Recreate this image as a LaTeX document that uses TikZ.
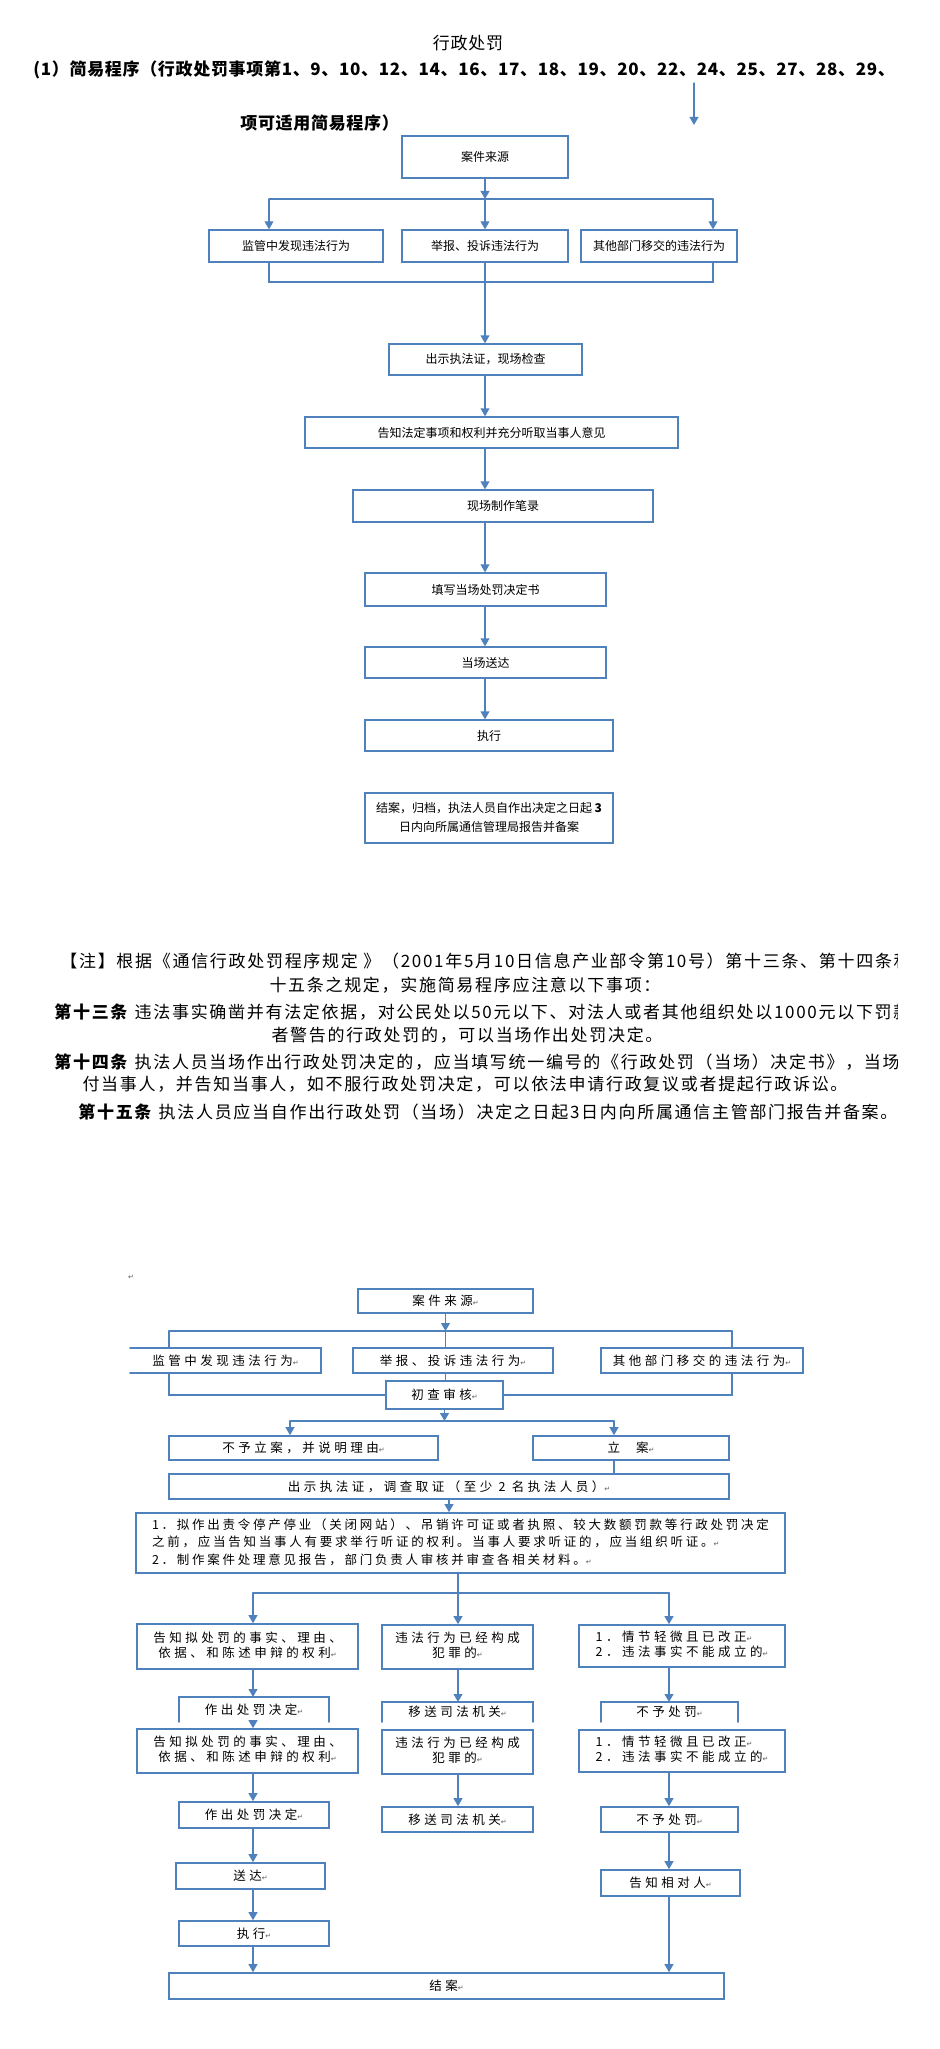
\documentclass[tikz,border=0pt]{standalone}
\usepackage{fontspec}
\setmainfont{Noto Sans CJK SC}
\newfontfamily\titlefont[LetterSpace=4]{Noto Sans CJK SC}
\newfontfamily\notefont[LetterSpace=10]{Noto Sans CJK SC}
\newfontfamily\boxfont[LetterSpace=28]{Noto Sans CJK SC}
\newfontfamily\wideboxfont[LetterSpace=22]{Noto Sans CJK SC}
\newfontfamily\symfont{DejaVu Sans}
\usetikzlibrary{arrows.meta}
\definecolor{lineblue}{rgb}{0.31,0.51,0.74}
\definecolor{markgray}{rgb}{0.35,0.35,0.35}
\newcommand{\retmark}{{\symfont\fontsize{3.5pt}{3.5pt}\selectfont\textcolor{markgray}{↵}}}

\begin{document}
\begin{tikzpicture}[x=0.5pt, y=-0.5pt, >={Triangle[length=4pt,width=4.4pt]}, line cap=round,
  boxat/.style n args={4}{at={({(#1+#3)/2},{(#2+#4)/2})}, minimum width={(#3-#1)*0.5pt}, minimum height={(#4-#2)*0.5pt}},
  box/.style={draw=lineblue, line width=0.65pt, inner sep=0pt, font=\fontsize{6pt}{9.5pt}\selectfont},
  bbox/.style={draw=lineblue, line width=0.8pt, inner sep=0pt, font=\boxfont\fontsize{6.25pt}{7.5pt}\selectfont},
  bopen/.style={bbox, draw=none, outer sep=0pt},
  link/.style={draw=lineblue, line width=0.65pt},
  blink/.style={draw=lineblue, line width=0.8pt},
  notetext/.style={inner sep=0pt, font=\notefont\fontsize{8.5pt}{8.5pt}\selectfont}]
\path[fill=white, use as bounding box] (0,0) rectangle (940,2049);
% ---------- 标题 ----------
\node[inner sep=0pt, font=\titlefont\fontsize{8.5pt}{8.5pt}\selectfont] (title) at (468,43) {行政处罚};
\node[anchor=west, inner sep=0pt, font=\titlefont\bfseries\fontsize{8.5pt}{8.5pt}\selectfont] (scope1) at (33,70) {(1）简易程序（行政处罚事项第1、9、10、12、14、16、17、18、19、20、22、24、25、27、28、29、};
\node[anchor=west, inner sep=0pt, font=\titlefont\bfseries\fontsize{8.5pt}{8.5pt}\selectfont] (scope2) at (240,123) {项可适用简易程序）};
\coordinate (stray1) at (694,83);
\coordinate (stray2) at (694,125);
\draw[link,->] (stray1) -- (stray2);
% ---------- 简易程序流程 ----------
\node[box, boxat={402}{136}{568}{178}] (src) {案件来源};
\node[box, boxat={209}{230}{383}{262}] (find) {监管中发现违法行为};
\node[box, boxat={402}{230}{568}{262}] (report) {举报、投诉违法行为};
\node[box, boxat={581}{230}{737}{262}] (transfer) {其他部门移交的违法行为};
\node[box, boxat={389}{344}{582}{375}] (show) {出示执法证，现场检查};
\node[box, boxat={305}{417}{678}{448}] (inform) {告知法定事项和权利并充分听取当事人意见};
\node[box, boxat={353}{490}{653}{522}] (record) {现场制作笔录};
\node[box, boxat={365}{573}{606}{606}] (fill) {填写当场处罚决定书};
\node[box, boxat={365}{647}{606}{678}] (deliver) {当场送达};
\node[box, boxat={365}{720}{613}{751}] (exec) {执行};
\node[box, boxat={365}{793}{613}{843}] (close) {\begin{tabular}{@{}c@{}}结案，归档，执法人员自作出决定之日起 \textbf{3}\\日内向所属通信管理局报告并备案\end{tabular}};
\coordinate (colT) at (485,199);
\coordinate (busAL) at (269,199);
\coordinate (busAR) at (713,199);
\coordinate (busBL) at (269,282);
\coordinate (busBR) at (713,282);
\draw[link,->] (src.south) -- (src.south |- colT);
\draw[link] (busAL) -- (busAR);
\draw[link,->] (busAL) -- (busAL |- find.north);
\draw[link,->] (colT) -- (colT |- report.north);
\draw[link,->] (busAR) -- (busAR |- transfer.north);
\draw[link] (busAL |- find.south) -- (busBL) -- (busBR) -- (busAR |- transfer.south);
\draw[link,->] (colT |- report.south) -- (colT |- show.north);
\draw[link,->] (colT |- show.south) -- (colT |- inform.north);
\draw[link,->] (colT |- inform.south) -- (colT |- record.north);
\draw[link,->] (colT |- record.south) -- (colT |- fill.north);
\draw[link,->] (colT |- fill.south) -- (colT |- deliver.north);
\draw[link,->] (colT |- deliver.south) -- (colT |- exec.north);
% ---------- 注 ----------
\begin{scope}
  \clip (0,0) rectangle (897,2049);
  \node[notetext, anchor=west] (note1) at (60,961) {【注】根据《通信行政处罚程序规定 》（2001年5月10日信息产业部令第10号）第十三条、第十四条和};
  \node[notetext] (note2) at (465,985) {十五条之规定，实施简易程序应注意以下事项：};
  \node[notetext, anchor=west] (note3) at (54,1012) {\textbf{第十三条} 违法事实确凿并有法定依据，对公民处以50元以下、对法人或者其他组织处以1000元以下罚款};
  \node[notetext] (note4) at (467,1035) {者警告的行政处罚的，可以当场作出处罚决定。};
  \node[notetext, anchor=west] (note5) at (54,1062) {\textbf{第十四条} 执法人员当场作出行政处罚决定的，应当填写统一编号的《行政处罚（当场）决定书》，当场};
  \node[notetext] (note6) at (465,1084) {付当事人，并告知当事人，如不服行政处罚决定，可以依法申请行政复议或者提起行政诉讼。};
  \node[notetext, anchor=west] (note7) at (78,1112) {\textbf{第十五条} 执法人员应当自作出行政处罚（当场）决定之日起3日内向所属通信主管部门报告并备案。};
\end{scope}
% ---------- 一般程序流程 ----------
\node[inner sep=0pt] (mark0) at (131,1277) {\retmark};
\node[bbox, boxat={358}{1289}{533}{1313}] (bsrc) {案件来源\retmark};
\node[bopen, boxat={130}{1348}{321}{1373}] (bfind) {监管中发现违法行为\retmark};
\draw[blink] (bfind.north west) -- (bfind.north east) -- (bfind.south east) -- (bfind.south west);
\node[bbox, boxat={353}{1348}{553}{1373}] (breport) {举报、投诉违法行为\retmark};
\node[bbox, boxat={601}{1348}{803}{1373}] (btransfer) {其他部门移交的违法行为\retmark};
\node[bbox, boxat={386}{1381}{503}{1409}] (bcheck) {初查审核\retmark};
\node[bbox, boxat={169}{1436}{438}{1460}] (bnoreg) {不予立案，并说明理由\retmark};
\node[bbox, boxat={533}{1436}{729}{1460}] (breg) {立\hspace{8pt}案\retmark};
\node[bbox, boxat={169}{1474}{729}{1499}] (bshow) {出示执法证，调查取证（至少 2 名执法人员）\retmark};
\node[bbox, font=\wideboxfont\fontsize{6.25pt}{8.75pt}\selectfont, boxat={136}{1513}{785}{1573}] (bbig) {\begin{tabular}{@{}l@{}}1．拟作出责令停产停业（关闭网站）、吊销许可证或者执照、较大数额罚款等行政处罚决定\\之前，应当告知当事人有要求举行听证的权利。当事人要求听证的，应当组织听证。\retmark\\2．制作案件处理意见报告，部门负责人审核并审查各相关材料。\retmark\end{tabular}};
% 三列：第一组
\node[bbox, boxat={137}{1624}{358}{1669}] (r1a) {\begin{tabular}{@{}c@{}}告知拟处罚的事实、理由、\\依据、和陈述申辩的权利\retmark\end{tabular}};
\node[bbox, boxat={382}{1625}{533}{1669}] (r1b) {\begin{tabular}{@{}c@{}}违法行为已经构成\\犯罪的\retmark\end{tabular}};
\node[bbox, boxat={579}{1625}{785}{1667}] (r1c) {\begin{tabular}{@{}l@{}}1．情节轻微且已改正\retmark\\2．违法事实不能成立的\retmark\end{tabular}};
\node[bopen, boxat={179}{1697}{329}{1722}] (r2a) {作出处罚决定\retmark};
\node[bopen, boxat={382}{1702}{533}{1722}] (r2b) {移送司法机关\retmark};
\node[bopen, boxat={601}{1702}{738}{1722}] (r2c) {不予处罚\retmark};
\draw[blink] (r2a.south west) -- (r2a.north west) -- (r2a.north east) -- (r2a.south east);
\draw[blink] (r2b.south west) -- (r2b.north west) -- (r2b.north east) -- (r2b.south east);
\draw[blink] (r2c.south west) -- (r2c.north west) -- (r2c.north east) -- (r2c.south east);
% 三列：第二组
\node[bbox, boxat={137}{1729}{358}{1773}] (r3a) {\begin{tabular}{@{}c@{}}告知拟处罚的事实、理由、\\依据、和陈述申辩的权利\retmark\end{tabular}};
\node[bbox, boxat={382}{1730}{533}{1774}] (r3b) {\begin{tabular}{@{}c@{}}违法行为已经构成\\犯罪的\retmark\end{tabular}};
\node[bbox, boxat={579}{1730}{785}{1772}] (r3c) {\begin{tabular}{@{}l@{}}1．情节轻微且已改正\retmark\\2．违法事实不能成立的\retmark\end{tabular}};
\node[bbox, boxat={179}{1802}{329}{1828}] (r4a) {作出处罚决定\retmark};
\node[bbox, boxat={382}{1807}{533}{1832}] (r4b) {移送司法机关\retmark};
\node[bbox, boxat={601}{1807}{738}{1832}] (r4c) {不予处罚\retmark};
\node[bbox, boxat={176}{1863}{325}{1889}] (bsend) {送达\retmark};
\node[bbox, boxat={179}{1921}{329}{1946}] (bexec) {执行\retmark};
\node[bbox, boxat={601}{1870}{740}{1896}] (bnotify) {告知相对人\retmark};
\node[bbox, boxat={169}{1973}{724}{1999}] (bclose) {结案\retmark};
% 连线
\coordinate (busCL) at (169,1331);
\coordinate (busCR) at (732,1331);
\coordinate (busDL) at (290,1421);
\coordinate (busDR) at (614,1421);
\coordinate (colA) at (253,1593);
\coordinate (colB) at (458,1593);
\coordinate (colC) at (669,1593);
\draw[blink,->] (bsrc.south) -- (bsrc.south |- busCL);
\draw[blink] (busCL) -- (busCR);
\draw[blink] (busCL) -- (busCL |- bfind.north);
\draw[blink] (bsrc.south |- busCL) -- (bsrc.south |- breport.north);
\draw[blink] (busCR) -- (busCR |- btransfer.north);
\draw[blink] (busCL |- bfind.south) -- (busCL |- bcheck.west) -- (bcheck.west);
\draw[blink] (bsrc.south |- breport.south) -- (bsrc.south |- bcheck.north);
\draw[blink] (busCR |- btransfer.south) -- (busCR |- bcheck.east) -- (bcheck.east);
\draw[blink,->] (bcheck.south) -- (bcheck.south |- busDL);
\draw[blink] (busDL) -- (busDR);
\draw[blink,->] (busDL) -- (busDL |- bnoreg.north);
\draw[blink,->] (busDR) -- (busDR |- breg.north);
\draw[blink] (busDR |- breg.south) -- (busDR |- bshow.north);
\draw[blink,->] (bshow.south) -- (bshow.south |- bbig.north);
\draw[blink] (colB |- bbig.south) -- (colB);
\draw[blink] (colA) -- (colC);
\draw[blink,->] (colA) -- (colA |- r1a.north);
\draw[blink,->] (colB) -- (colB |- r1b.north);
\draw[blink,->] (colC) -- (colC |- r1c.north);
\draw[blink,->] (colA |- r1a.south) -- (colA |- r2a.north);
\draw[blink,->] (colB |- r1b.south) -- (colB |- r2b.north);
\draw[blink,->] (colC |- r1c.south) -- (colC |- r2c.north);
\draw[blink,->] (colA |- r2a.south) -- (colA |- r3a.north);
\draw[blink,->] (colA |- r3a.south) -- (colA |- r4a.north);
\draw[blink,->] (colB |- r3b.south) -- (colB |- r4b.north);
\draw[blink,->] (colC |- r3c.south) -- (colC |- r4c.north);
\draw[blink,->] (colA |- r4a.south) -- (colA |- bsend.north);
\draw[blink,->] (colA |- bsend.south) -- (colA |- bexec.north);
\draw[blink,->] (colA |- bexec.south) -- (colA |- bclose.north);
\draw[blink,->] (colC |- r4c.south) -- (colC |- bnotify.north);
\draw[blink,->] (colC |- bnotify.south) -- (colC |- bclose.north);
\end{tikzpicture}
\end{document}
